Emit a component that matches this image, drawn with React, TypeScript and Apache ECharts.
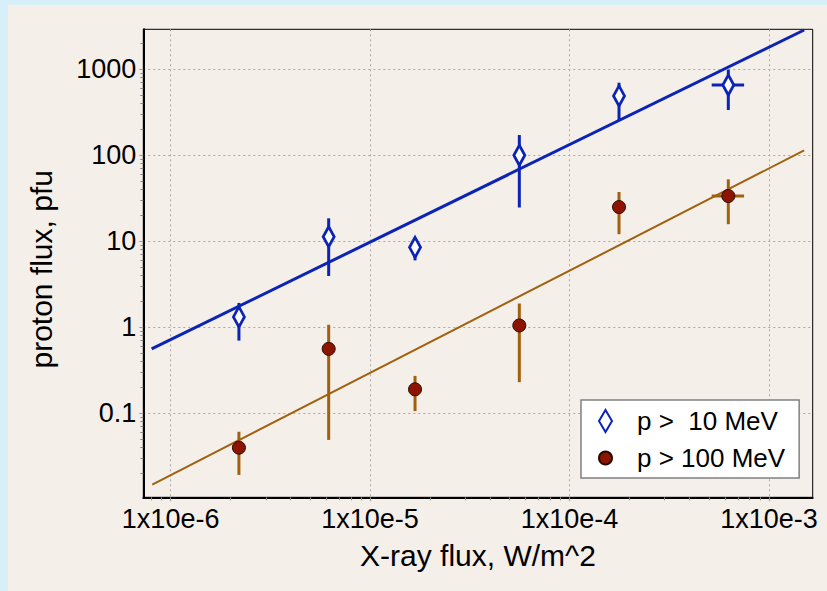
import React, { useEffect, useRef } from 'react';
import * as echarts from 'echarts';

// X-ray flux (W/m^2) for each event class
const xFlux = [2.2e-6, 6.2e-6, 1.68e-5, 5.6e-5, 1.77e-4, 6.25e-4];
const xFluxLow = [2.2e-6, 6.2e-6, 1.68e-5, 5.6e-5, 1.77e-4, 5.16e-4];
const xFluxHigh = [2.2e-6, 6.2e-6, 1.68e-5, 5.6e-5, 1.77e-4, 7.5e-4];

// p > 10 MeV
const p10 = [1.32, 11.3, 8.5, 100, 490, 656];
const p10Low = [0.7, 3.95, 6.0, 24.7, 257, 336];
const p10High = [1.92, 18.5, 11, 172, 698, 990];

// p > 100 MeV
const p100 = [0.0398, 0.561, 0.19, 1.05, 25, 33.6];
const p100Low = [0.0192, 0.049, 0.106, 0.23, 12.1, 15.8];
const p100High = [0.061, 1.07, 0.272, 1.89, 37.4, 52.5];

// fitted power laws (end points)
const fit10X = [8.03e-7, 1.5e-3];
const fit10Y = [0.561, 2865];
const fit100X = [8.09e-7, 1.5e-3];
const fit100Y = [0.0148, 114];

// ticks
const xTickValues = [1e-6, 1e-5, 1e-4, 1e-3];
const xTickLabels = ['1x10e-6', '1x10e-5', '1x10e-4', '1x10e-3'];
const yTickValues = [0.1, 1, 10, 100, 1000];
const yTickLabels = ['0.1', '1', '10', '100', '1000'];

const seriesNames = ['p >  10 MeV', 'p > 100 MeV'];

const L = Math.log10;
const FONT = "'Liberation Sans', Arial, Helvetica, sans-serif";
const BLUE = '#0c24b6';
const BROWN = '#a0600e';
const RED = '#8c1400';

const X_MIN = -6.137;
const X_MAX = -2.781;
const Y_MIN = -1.977;
const Y_MAX = 3.465;

function minorTicks(lo: number, hi: number) {
  const out: number[] = [];
  for (let d = Math.floor(lo); d <= Math.ceil(hi); d++) {
    for (let k = 2; k <= 9; k++) {
      const v = d + L(k);
      if (v > lo && v < hi) out.push(v);
    }
  }
  return out;
}

function labelFor(values: number[], labels: string[]) {
  return (v: number) => {
    for (let i = 0; i < values.length; i++) {
      if (Math.abs(L(values[i]) - v) < 1e-6) return labels[i];
    }
    return '';
  };
}

function errRender(color: string) {
  return (params: any, api: any) => {
    const x = api.value(0);
    const lo = api.value(1);
    const hi = api.value(2);
    const y = api.value(3);
    const xl = api.value(4);
    const xh = api.value(5);
    const a = api.coord([x, lo]);
    const b = api.coord([x, hi]);
    const children: any[] = [
      {
        type: 'line',
        shape: { x1: a[0], y1: a[1], x2: b[0], y2: b[1] },
        style: { stroke: color, lineWidth: 3 },
      },
    ];
    if (Math.abs(xh - xl) > 1e-9) {
      const c = api.coord([xl, y]);
      const d = api.coord([xh, y]);
      children.push({
        type: 'line',
        shape: { x1: c[0], y1: c[1], x2: d[0], y2: d[1] },
        style: { stroke: color, lineWidth: 3 },
      });
    }
    return { type: 'group', children };
  };
}

const DIAMOND = 'path://M6.5,0 L13,11 L6.5,22 L0,11 Z';

export default function App() {
  const ref = useRef<HTMLDivElement>(null);
  useEffect(() => {
    const chart = echarts.init(ref.current!, null, { renderer: 'svg' });
    const axisCommon = {
      type: 'value' as const,
    };
    const option: any = {
      animation: false,
      backgroundColor: 'transparent',
      grid: {
        left: 135.3,
        top: 24.3,
        right: 14.3,
        bottom: 93.7,
        show: true,
        borderColor: '#000',
        borderWidth: 1,
        backgroundColor: 'transparent',
        outerBoundsMode: 'none',
        containLabel: false,
      },
      xAxis: [
        {
          ...axisCommon,
          min: X_MIN,
          max: X_MAX,
          position: 'bottom',
          axisLine: { show: true, onZero: false, lineStyle: { color: '#000', width: 2 } },
          axisTick: {
            show: true,
            length: 4,
            customValues: xTickValues.map(L),
            lineStyle: { color: '#999', width: 1 },
          },
          axisLabel: {
            show: true,
            customValues: xTickValues.map(L),
            formatter: labelFor(xTickValues, xTickLabels),
            fontSize: 27,
            color: '#000',
            margin: 8,
            fontFamily: FONT,
          },
          splitLine: { show: true, lineStyle: { color: '#a8a8a8', type: [2, 3], width: 1 } },
          name: 'X-ray flux, W/m^2',
          nameLocation: 'middle',
          nameGap: 43,
          nameTextStyle: { fontSize: 30, color: '#000', fontFamily: FONT },
        },
        {
          ...axisCommon,
          min: X_MIN,
          max: X_MAX,
          position: 'bottom',
          offset: 0,
          axisLine: { show: false, onZero: false },
          axisTick: {
            show: true,
            length: 3,
            customValues: minorTicks(X_MIN, X_MAX),
            lineStyle: { color: '#888', width: 1 },
          },
          axisLabel: { show: false },
          splitLine: { show: false },
        },
      ],
      yAxis: [
        {
          ...axisCommon,
          min: Y_MIN,
          max: Y_MAX,
          position: 'left',
          axisLine: { show: true, onZero: false, lineStyle: { color: '#000', width: 2 } },
          axisTick: {
            show: true,
            length: 4,
            customValues: yTickValues.map(L),
            lineStyle: { color: '#999', width: 1 },
          },
          axisLabel: {
            show: true,
            customValues: yTickValues.map(L),
            formatter: labelFor(yTickValues, yTickLabels),
            fontSize: 27,
            color: '#000',
            margin: 7,
            fontFamily: FONT,
          },
          splitLine: { show: true, lineStyle: { color: '#a8a8a8', type: [2, 3], width: 1 } },
          name: 'proton flux, pfu',
          nameLocation: 'middle',
          nameGap: 87,
          nameTextStyle: { fontSize: 30, color: '#000', fontFamily: FONT, padding: [0, 12, 0, 0] },
        },
        {
          ...axisCommon,
          min: Y_MIN,
          max: Y_MAX,
          position: 'left',
          offset: 0,
          axisLine: { show: false, onZero: false },
          axisTick: {
            show: true,
            length: 3,
            customValues: minorTicks(Y_MIN, Y_MAX),
            lineStyle: { color: '#888', width: 1 },
          },
          axisLabel: { show: false },
          splitLine: { show: false },
        },
      ],
      legend: {
        show: true,
        data: [
          { name: seriesNames[0], icon: DIAMOND },
          { name: seriesNames[1], icon: 'circle' },
        ],
        orient: 'vertical',
        left: 573,
        top: 395,
        itemWidth: 13,
        itemHeight: 22,
        itemGap: 11,
        padding: [8, 14, 7, 17],
        backgroundColor: '#fff',
        borderColor: '#808080',
        borderWidth: 1.5,
        selectedMode: false,
        textStyle: { fontSize: 26, color: '#000', fontFamily: FONT, padding: [0, 0, 0, 20] },
      },
      series: [
        {
          type: 'line',
          xAxisIndex: 0,
          yAxisIndex: 0,
          data: fit10X.map((x, i) => [L(x), L(fit10Y[i])]),
          symbol: 'none',
          lineStyle: { color: BLUE, width: 3 },
          silent: true,
          z: 2,
        },
        {
          type: 'line',
          data: fit100X.map((x, i) => [L(x), L(fit100Y[i])]),
          symbol: 'none',
          lineStyle: { color: BROWN, width: 2 },
          silent: true,
          z: 2,
        },
        {
          type: 'custom',
          renderItem: errRender(BLUE),
          data: xFlux.map((x, i) => [L(x), L(p10Low[i]), L(p10High[i]), L(p10[i]), L(xFluxLow[i]), L(xFluxHigh[i])]),
          z: 3,
          silent: true,
        },
        {
          type: 'custom',
          renderItem: errRender(BROWN),
          data: xFlux.map((x, i) => [L(x), L(p100Low[i]), L(p100High[i]), L(p100[i]), L(xFluxLow[i]), L(xFluxHigh[i])]),
          z: 3,
          silent: true,
        },
        {
          type: 'scatter',
          name: seriesNames[0],
          data: xFlux.map((x, i) => [L(x), L(p10[i])]),
          symbol: 'diamond',
          symbolSize: [11, 20],
          itemStyle: { color: '#ffffff', borderColor: BLUE, borderWidth: 3, opacity: 1 },
          z: 4,
        },
        {
          type: 'scatter',
          name: seriesNames[1],
          data: xFlux.map((x, i) => [L(x), L(p100[i])]),
          symbol: 'circle',
          symbolSize: 13,
          itemStyle: { color: RED, borderColor: '#2a0800', borderWidth: 1, opacity: 1 },
          z: 4,
        },
      ],
    };
    chart.setOption(option);
    return () => chart.dispose();
  }, []);
  return (
    <div style={{ position: 'fixed', left: 0, top: 0, width: 827, height: 591, background: '#d7eff9' }}>
      <div
        ref={ref}
        style={{ position: 'absolute', left: 8, top: 5, width: 819, height: 586, background: '#f5efea' }}
      />
    </div>
  );
}
